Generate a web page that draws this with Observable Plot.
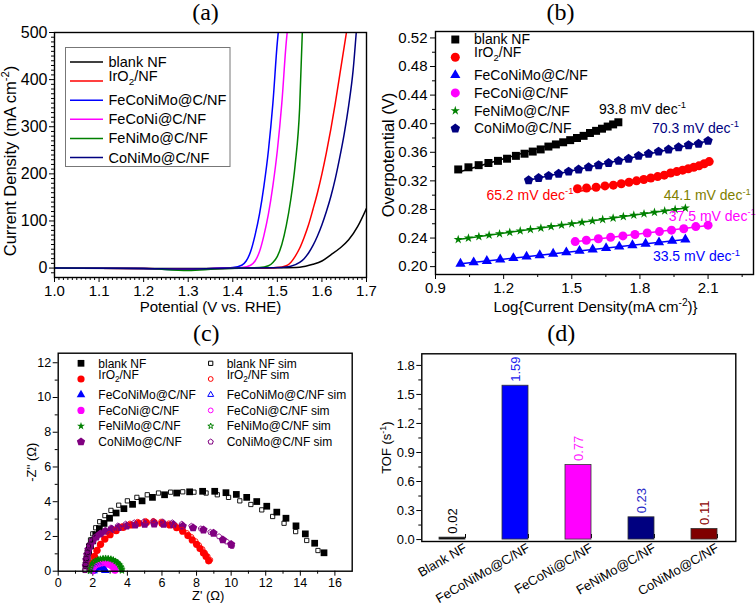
<!DOCTYPE html>
<html><head><meta charset="utf-8">
<script src="https://cdn.jsdelivr.net/npm/d3@7"></script>
<script src="https://cdn.jsdelivr.net/npm/@observablehq/plot@0.6"></script>
<style>
body{margin:0;background:#fff;}
#wrap{position:relative;width:756px;height:606px;overflow:hidden;background:#fff;}
#wrap svg{position:absolute;overflow:visible;}
</style></head><body><div id="wrap"></div>
<script>
const FONT = '"Liberation Sans", Arial, Helvetica, sans-serif';
const SERIF = '"Liberation Serif", "Times New Roman", serif';

// ---------------- (a) LSV ----------------
const lsvNames = ["blank NF","IrO_{2}/NF","FeCoNiMo@C/NF","FeCoNi@C/NF","FeNiMo@C/NF","CoNiMo@C/NF"];
const lsvColors = ["#000000","#ff0000","#0000ff","#ff00ff","#008000","#000080"];
const lsvBlank = [[1.0,0],[1.2,-1],[1.35,-1],[1.45,0],[1.5,0.5],[1.55,2],[1.58,8],[1.6,15],[1.62,28],[1.64,42],[1.66,60],[1.68,88],[1.7,127]];
const lsvIrO2 = [[1.0,0],[1.2,-1],[1.3,-2],[1.4,0],[1.48,0.5],[1.5,1],[1.52,5],[1.53,12],[1.54,25],[1.55,42],[1.56,65],[1.57,92],[1.58,125],[1.59,160],[1.6,200],[1.61,245],[1.62,295],[1.63,350],[1.64,410],[1.65,470],[1.655,500]];
const lsvFeCoNiMo = [[1.0,0],[1.1,0],[1.2,-1],[1.27,-3],[1.33,-2],[1.38,0],[1.4,1],[1.42,6],[1.43,15],[1.44,35],[1.45,70],[1.46,115],[1.47,175],[1.48,250],[1.49,350],[1.5,480],[1.502,500]];
const lsvFeCoNi = [[1.0,0],[1.2,-1],[1.3,-3],[1.36,-1],[1.4,0],[1.42,1],[1.44,6],[1.45,15],[1.46,35],[1.47,70],[1.48,115],[1.49,175],[1.5,250],[1.51,350],[1.52,480],[1.522,500]];
const lsvFeNiMo = [[1.0,0],[1.2,-1],[1.3,-5],[1.36,-2],[1.42,0],[1.46,1],[1.48,5],[1.49,12],[1.5,25],[1.51,50],[1.52,90],[1.53,145],[1.54,220],[1.55,340],[1.556,500]];
const lsvCoNiMo = [[1.0,0],[1.2,-1],[1.3,-2],[1.4,0],[1.48,0.5],[1.5,1],[1.53,4],[1.55,12],[1.56,20],[1.57,32],[1.58,48],[1.59,68],[1.6,92],[1.61,120],[1.62,152],[1.63,190],[1.64,235],[1.65,285],[1.66,345],[1.67,420],[1.677,500]];
const lsvSeries = [lsvBlank, lsvIrO2, lsvFeCoNiMo, lsvFeCoNi, lsvFeNiMo, lsvCoNiMo];
const aXTicks = [1.0,1.1,1.2,1.3,1.4,1.5,1.6,1.7];
const aYTicks = [0,100,200,300,400,500];

// ---------------- (b) Tafel ----------------
const tafelNames = ["blank NF","IrO_{2}/NF","FeCoNiMo@C/NF","FeCoNi@C/NF","FeNiMo@C/NF","CoNiMo@C/NF"];
const tafelColors = ["#000000","#ff0000","#0000ff","#ff00ff","#008000","#000080"];
const tafelBlank = [[1.0,0.336],[1.045,0.339],[1.09,0.342],[1.133,0.345],[1.175,0.348],[1.215,0.351],[1.254,0.355],[1.292,0.358],[1.328,0.361],[1.363,0.364],[1.397,0.368],[1.43,0.371],[1.462,0.374],[1.493,0.377],[1.523,0.380],[1.552,0.383],[1.58,0.387],[1.607,0.390],[1.633,0.393],[1.658,0.396],[1.682,0.399],[1.705,0.402]];
const tafelIrO2 = [[1.525,0.309],[1.565,0.310],[1.607,0.311],[1.646,0.313],[1.683,0.314],[1.718,0.316],[1.752,0.318],[1.785,0.320],[1.817,0.322],[1.848,0.324],[1.878,0.326],[1.907,0.328],[1.935,0.331],[1.962,0.333],[1.988,0.335],[2.013,0.337],[2.037,0.339],[2.06,0.341],[2.083,0.344],[2.105,0.347]];
const tafelFeCoNiMo = [[1.01,0.204],[1.068,0.206],[1.126,0.208],[1.185,0.210],[1.243,0.212],[1.301,0.214],[1.359,0.216],[1.418,0.218],[1.476,0.220],[1.534,0.222],[1.592,0.224],[1.651,0.226],[1.709,0.228],[1.767,0.230],[1.825,0.232],[1.884,0.234],[1.942,0.236],[2.0,0.238]];
const tafelFeCoNi = [[1.515,0.235],[1.564,0.237],[1.617,0.239],[1.671,0.241],[1.725,0.243],[1.778,0.245],[1.832,0.247],[1.886,0.249],[1.939,0.251],[1.993,0.253],[2.046,0.256],[2.10,0.258]];
const tafelFeNiMo = [[1.0,0.238],[1.045,0.240],[1.091,0.242],[1.136,0.244],[1.182,0.246],[1.227,0.248],[1.273,0.250],[1.318,0.252],[1.364,0.254],[1.409,0.256],[1.455,0.258],[1.5,0.260],[1.545,0.262],[1.591,0.264],[1.636,0.266],[1.682,0.268],[1.727,0.270],[1.773,0.272],[1.818,0.274],[1.864,0.276],[1.909,0.278],[1.955,0.280],[2.0,0.282]];
const tafelCoNiMo = [[1.31,0.321],[1.354,0.324],[1.398,0.327],[1.442,0.330],[1.486,0.333],[1.53,0.336],[1.574,0.339],[1.618,0.342],[1.662,0.345],[1.706,0.348],[1.75,0.351],[1.794,0.355],[1.838,0.358],[1.882,0.361],[1.926,0.364],[1.97,0.367],[2.014,0.370],[2.058,0.372],[2.10,0.376]];
const tafelSeries = [tafelBlank, tafelIrO2, tafelFeCoNiMo, tafelFeCoNi, tafelFeNiMo, tafelCoNiMo];
const tafelSlopeText = ["93.8 mV dec^{-1}","65.2 mV dec^{-1}","33.5 mV dec^{-1}","37.5 mV dec^{-1}","44.1 mV dec^{-1}","70.3 mV dec^{-1}"];
const tafelSlopeColors = ["#000000","#ff0000","#0000ff","#ff00ff","#808000","#000080"];
const tafelSlopeAt = [[1.62,0.420],[1.124,0.300],[1.857,0.214],[1.927,0.270],[1.905,0.299],[1.853,0.3935]];
const bXTicks = [0.9,1.2,1.5,1.8,2.1];
const bYTicks = [0.20,0.24,0.28,0.32,0.36,0.40,0.44,0.48,0.52];

// ---------------- (c) Nyquist ----------------
const eisNames = ["blank NF","IrO_{2}/NF","FeCoNiMo@C/NF","FeCoNi@C/NF","FeNiMo@C/NF","CoNiMo@C/NF"];
const eisColors = ["#000000","#ff0000","#0000ff","#ff00ff","#008000","#800080"];
const eisBlank = [[1.62,0.35],[1.68,0.75],[1.76,1.1],[1.87,1.45],[2.0,1.75],[2.17,2.1],[2.38,2.45],[2.65,2.75],[2.97,3.05],[3.35,3.35],[3.8,3.6],[4.3,3.85],[4.85,4.05],[5.45,4.25],[6.15,4.4],[6.85,4.5],[7.6,4.57],[8.35,4.6],[9.05,4.6],[9.7,4.52],[10.3,4.42],[10.9,4.25],[11.48,4.01],[12.06,3.74],[12.64,3.40],[13.17,3.05],[13.75,2.61],[14.29,2.15],[14.83,1.61],[15.37,1.06]];
const eisBlankSim = [[1.55,0.05],[1.58,0.4],[1.62,0.75],[1.68,1.1],[1.76,1.45],[1.87,1.8],[2.0,2.15],[2.17,2.5],[2.4,2.85],[2.7,3.2],[3.05,3.5],[3.5,3.8],[4.0,4.05],[4.55,4.25],[5.15,4.4],[5.8,4.5],[6.5,4.55],[7.2,4.57],[7.85,4.55],[8.55,4.5],[9.2,4.4],[9.85,4.25],[10.5,4.05],[11.14,3.84],[11.77,3.53],[12.4,3.15],[13.06,2.76],[13.73,2.28],[14.37,1.77],[15.02,1.19]];
const eisIrO2 = [[1.95,0.2],[2.0,0.5],[2.1,0.85],[2.25,1.2],[2.45,1.55],[2.7,1.85],[3.0,2.1],[3.35,2.33],[3.75,2.52],[4.2,2.66],[4.65,2.76],[5.1,2.8],[5.55,2.8],[6.0,2.76],[6.45,2.66],[6.85,2.5],[7.2,2.3],[7.5,2.05],[7.75,1.8],[8.0,1.55],[8.2,1.3],[8.4,1.05],[8.55,0.85],[8.7,0.6]];
const eisIrO2Sim = [[1.9,0.1],[1.95,0.45],[2.05,0.8],[2.2,1.15],[2.4,1.5],[2.65,1.85],[2.95,2.15],[3.3,2.4],[3.7,2.6],[4.15,2.75],[4.6,2.85],[5.05,2.9],[5.5,2.9],[5.95,2.86],[6.4,2.76],[6.8,2.6],[7.15,2.4],[7.45,2.2],[7.7,1.98],[7.95,1.73],[8.15,1.5],[8.35,1.27],[8.5,1.05],[8.65,0.85],[8.8,0.65]];
const eisFeCoNiMo = [[2.05,0.02],[2.08,0.1],[2.14,0.17],[2.22,0.22],[2.31,0.25],[2.41,0.26],[2.51,0.24],[2.6,0.19],[2.67,0.12],[2.72,0.04]];
const eisFeCoNiMoSim = [[2.03,0.0],[2.06,0.08],[2.11,0.15],[2.19,0.21],[2.28,0.25],[2.38,0.27],[2.48,0.26],[2.57,0.22],[2.65,0.15],[2.7,0.07]];
const eisFeCoNi = [[2.0,0.02],[2.02,0.12],[2.07,0.21],[2.14,0.29],[2.23,0.35],[2.34,0.4],[2.46,0.43],[2.59,0.45],[2.72,0.45],[2.85,0.43],[2.97,0.39],[3.08,0.33],[3.17,0.25],[3.24,0.16],[3.28,0.06]];
const eisFeCoNiSim = [[1.98,0.0],[2.0,0.08],[2.04,0.17],[2.1,0.25],[2.19,0.32],[2.29,0.38],[2.41,0.42],[2.53,0.45],[2.66,0.46],[2.79,0.45],[2.91,0.42],[3.03,0.37],[3.13,0.3],[3.21,0.21],[3.27,0.12],[3.3,0.03]];
const eisFeNiMo = [[1.85,0.05],[1.87,0.2],[1.92,0.33],[1.99,0.44],[2.08,0.53],[2.19,0.6],[2.32,0.65],[2.46,0.69],[2.61,0.71],[2.76,0.72],[2.91,0.71],[3.06,0.68],[3.2,0.63],[3.33,0.55],[3.45,0.46],[3.55,0.35],[3.62,0.23],[3.67,0.1]];
const eisFeNiMoSim = [[1.84,0.0],[1.86,0.15],[1.9,0.3],[1.97,0.42],[2.05,0.52],[2.16,0.6],[2.29,0.66],[2.43,0.7],[2.58,0.73],[2.73,0.74],[2.88,0.73],[3.03,0.71],[3.18,0.66],[3.31,0.59],[3.43,0.5],[3.53,0.39],[3.61,0.27],[3.66,0.14],[3.69,0.02]];
const eisCoNiMo = [[1.6,0.3],[1.63,0.65],[1.68,0.95],[1.75,1.25],[1.85,1.5],[2.0,1.75],[2.2,1.97],[2.45,2.15],[2.75,2.3],[3.1,2.42],[3.5,2.52],[3.95,2.6],[4.45,2.66],[5.0,2.7],[5.55,2.72],[6.1,2.71],[6.65,2.68],[7.2,2.6],[7.8,2.5],[8.4,2.38],[8.98,2.19],[9.52,1.81],[10.0,1.54]];
const eisCoNiMoSim = [[1.55,0.05],[1.58,0.45],[1.63,0.8],[1.7,1.15],[1.8,1.45],[1.95,1.72],[2.15,1.97],[2.4,2.17],[2.7,2.35],[3.05,2.5],[3.45,2.62],[3.9,2.72],[4.4,2.8],[4.95,2.85],[5.5,2.87],[6.05,2.85],[6.6,2.8],[7.15,2.72],[7.7,2.6],[8.25,2.45],[8.8,2.25],[9.3,2.0],[9.75,1.7],[10.05,1.44]];
const eisSeries = [eisBlank, eisIrO2, eisFeCoNiMo, eisFeCoNi, eisFeNiMo, eisCoNiMo];
const eisSimSeries = [eisBlankSim, eisIrO2Sim, eisFeCoNiMoSim, eisFeCoNiSim, eisFeNiMoSim, eisCoNiMoSim];
const cXTicks = [0,2,4,6,8,10,12,14,16];
const cYTicks = [0,2,4,6,8,10,12];

// ---------------- (d) TOF ----------------
const tofCats = ["Blank NF","FeCoNiMo@C/NF","FeCoNi@C/NF","FeNiMo@C/NF","CoNiMo@C/NF"];
const tofValues = [0.02,1.59,0.77,0.23,0.11];
const tofColors = ["#000000","#0000ff","#ff00ff","#000080","#800000"];
const tofLabelColors = ["#000000","#2222ee","#ff22ff","#2a2ac8","#8b0000"];
const dYTicks = [0,0.3,0.6,0.9,1.2,1.5,1.8];

// ---------- helpers ----------
const symbolPentagon = {
  draw(context, size) {
    const R = Math.sqrt(size / 2.3776);
    for (let k = 0; k < 5; k++) {
      const a = -Math.PI / 2 + k * 2 * Math.PI / 5;
      const x = R * Math.cos(a), y = R * Math.sin(a);
      if (k) context.lineTo(x, y); else context.moveTo(x, y);
    }
    context.closePath();
  }
};
const seriesSymbols = ["square","circle","triangle","circle","star",symbolPentagon];
const d3Symbols = [d3.symbolSquare, d3.symbolCircle, d3.symbolTriangle, d3.symbolCircle, d3.symbolStar, symbolPentagon];
const minorBetween = (lo, hi, step, majors) => d3.range(Math.round((hi-lo)/step)+1).map(i => +(lo + i*step).toFixed(6)).filter(v => !majors.some(m => Math.abs(m - v) < 1e-9));
const baseStyle = {background: "transparent", overflow: "visible", fontFamily: FONT, color: "#000"};
const blank = () => "";

function richify(svg) {
  svg.querySelectorAll("text").forEach(t => {
    const targets = t.querySelectorAll("tspan").length ? Array.from(t.querySelectorAll("tspan")) : [t];
    targets.forEach(el => {
      const s = el.textContent;
      if (!/[_^]\{/.test(s)) return;
      const fs = parseFloat(getComputedStyle(el).fontSize) || 14;
      const parts = s.split(/([_^]\{[^}]*\})/);
      while (el.firstChild) el.removeChild(el.firstChild);
      let cur = 0;
      for (const p of parts) {
        if (!p) continue;
        const ts = document.createElementNS("http://www.w3.org/2000/svg", "tspan");
        const m = p.match(/^([_^])\{([^}]*)\}$/);
        if (m) {
          const target = m[1] === "_" ? 0.25 * fs : -0.4 * fs;
          ts.setAttribute("dy", (target - cur).toFixed(2));
          cur = target;
          ts.setAttribute("font-size", (0.68 * fs).toFixed(1));
          ts.textContent = m[2];
        } else {
          ts.setAttribute("dy", (-cur).toFixed(2));
          cur = 0;
          ts.textContent = p;
        }
        el.appendChild(ts);
      }
    });
  });
}

function legend(svg, items, o) {
  const g = d3.select(svg).append("g").attr("font-family", FONT).attr("font-size", o.fontSize).attr("fill", "#000").attr("text-anchor", "start");
  items.forEach((it, i) => {
    const y = o.y0 + i * o.dy;
    if (it.line) g.append("line").attr("x1", o.lx1).attr("x2", o.lx2).attr("y1", y).attr("y2", y).attr("stroke", it.color).attr("stroke-width", 1.5);
    if (it.symbol) g.append("path").attr("transform", `translate(${o.sx},${y})`).attr("d", d3.symbol(it.symbol, it.size)())
      .attr("fill", it.open ? "none" : it.color).attr("stroke", it.color).attr("stroke-width", it.open ? 1 : 0);
    g.append("text").attr("x", o.tx).attr("y", y).attr("dy", "0.35em").text(it.label);
  });
  return g;
}

const wrap = document.getElementById("wrap");
function place(svg, left, top) { svg.style.left = left + "px"; svg.style.top = top + "px"; wrap.appendChild(svg); }
function yTitle(text, dx, dy, fontSize) { return Plot.text([text], {frameAnchor: "left", textAnchor: "middle", lineAnchor: "middle", rotate: -90, dx, dy, fontSize, fill: "#000"}); }
function xTitle(text, dx, dy, fontSize) { return Plot.text([text], {frameAnchor: "bottom", textAnchor: "middle", lineAnchor: "middle", dx, dy, fontSize, fill: "#000"}); }
function panelTitle(text, dx, dy) { return Plot.text([text], {frameAnchor: "top", textAnchor: "middle", lineAnchor: "middle", dx, dy, fontFamily: SERIF, fontSize: 24, fill: "#000"}); }

// ---------- (a) ----------
const lsvRows = lsvSeries.flatMap((s, i) => s.map(([v, j]) => ({v, j, name: lsvNames[i], color: lsvColors[i]})));
const plotA = Plot.plot({
  width: 378, height: 318, marginLeft: 54, marginRight: 12, marginTop: 32, marginBottom: 41,
  style: {...baseStyle, fontSize: "15px"},
  x: {domain: [1.0, 1.7], label: null},
  y: {domain: [-20, 500], label: null},
  color: {type: "identity"},
  marks: [
    Plot.axisX(minorBetween(1.0, 1.7, 0.01, aXTicks), {tickSize: 3, tickFormat: blank, label: null}),
    Plot.axisX(aXTicks, {tickSize: 5, tickPadding: 3, tickFormat: d => d.toFixed(1), fontSize: 15, label: null}),
    Plot.axisY(minorBetween(-10, 490, 10, aYTicks), {tickSize: 3, tickFormat: blank, label: null}),
    Plot.axisY(aYTicks, {tickSize: 5, tickPadding: 2, fontSize: 16, label: null}),
    Plot.line(lsvRows, {x: "v", y: "j", z: "name", stroke: "color", strokeWidth: 1.5, curve: "monotone-x", clip: true}),
    Plot.frame({stroke: "#000", strokeWidth: 1.4}),
    xTitle("Potential (V vs. RHE)", 0, 30, 15),
    yTitle("Current Density (mA cm^{-2})", -44, 6, 16.5),
    panelTitle("(a)", -5, -20)
  ]
});
place(plotA, 0, 0);
d3.select(plotA).append("rect").attr("x", 65.5).attr("y", 47.5).attr("width", 164.5).attr("height", 119).attr("fill", "#fff").attr("stroke", "#777").attr("stroke-width", 1);
legend(plotA, lsvNames.map((n, i) => ({label: n, color: lsvColors[i], line: true})), {fontSize: 14.5, y0: 62, dy: 19.1, lx1: 70, lx2: 103, tx: 108.5});

// ---------- (b) ----------
const tafelRows = tafelSeries.flatMap((s, i) => s.map(([x, y]) => ({x, y, k: i, color: tafelColors[i]})));
const tafelSizes = [4.5, 4.5, 3.8, 4.5, 2.9, 4.3];
const slopeRows = tafelSlopeText.map((t, i) => ({t, x: tafelSlopeAt[i][0], y: tafelSlopeAt[i][1], color: tafelSlopeColors[i]}));
const plotB = Plot.plot({
  width: 378, height: 318, marginLeft: 57, marginRight: 3, marginTop: 31, marginBottom: 44,
  style: {...baseStyle, fontSize: "15px"},
  x: {domain: [0.9, 2.3], label: null},
  y: {domain: [0.189, 0.529], label: null},
  color: {type: "identity"},
  marks: [
    Plot.axisX([1.05,1.35,1.65,1.95,2.25], {tickSize: 3, tickFormat: blank, label: null}),
    Plot.axisX(bXTicks, {tickSize: 5, tickPadding: 3, tickFormat: d => d.toFixed(1), fontSize: 15, label: null}),
    Plot.axisY(minorBetween(0.22, 0.50, 0.04, []), {tickSize: 3, tickFormat: blank, label: null}),
    Plot.axisY(bYTicks, {tickSize: 5, tickPadding: 3, tickFormat: d => d.toFixed(2), fontSize: 15, label: null}),
    Plot.linearRegressionY(tafelRows, {x: "x", y: "y", z: "k", stroke: "color", strokeWidth: 1.5, ci: 0}),
    ...tafelSeries.map((s, i) => Plot.dot(s, {x: d => d[0], y: d => d[1], symbol: seriesSymbols[i], r: tafelSizes[i], fill: tafelColors[i], stroke: "none"})),
    Plot.text(slopeRows, {x: "x", y: "y", text: "t", fill: "color", textAnchor: "start", fontSize: 14}),
    Plot.frame({stroke: "#000", strokeWidth: 1.4}),
    xTitle("Log{Current Density(mA cm^{-2})}", 1, 33, 15),
    yTitle("Overpotential (V)", -47, 2, 16.5),
    panelTitle("(b)", -34, -19)
  ]
});
place(plotB, 378, 0);
legend(plotB, tafelNames.map((n, i) => ({label: n, color: tafelColors[i], symbol: d3Symbols[i], size: Math.PI * tafelSizes[i] ** 2})),
  {fontSize: 14, y0: 39.5, dy: 17.8, sx: 77.3, tx: 96});

// ---------- (c) ----------
const eisSizes = [3.8, 3.6, 3.2, 3.6, 2.5, 3.8];
const eisSimSizes = [2.4, 2.4, 2.2, 2.4, 1.8, 2.4];
const plotC = Plot.plot({
  width: 378, height: 288, marginLeft: 57.7, marginRight: 26.3, marginTop: 34.7, marginBottom: 35.3,
  style: {...baseStyle, fontSize: "12px"},
  x: {domain: [0, 17], label: null},
  y: {domain: [0, 12.55], label: null},
  marks: [
    Plot.axisX(minorBetween(1, 15, 2, []), {tickSize: 3, tickFormat: blank, label: null}),
    Plot.axisX(cXTicks, {tickSize: 5, tickPadding: 2, fontSize: 12.5, label: null}),
    Plot.axisY(minorBetween(1, 11, 2, []), {tickSize: 3, tickFormat: blank, label: null}),
    Plot.axisY(cYTicks, {tickSize: 5, tickPadding: 2, fontSize: 12.5, label: null}),
    ...eisSeries.map((s, i) => Plot.dot(s, {x: d => d[0], y: d => d[1], symbol: seriesSymbols[i], r: eisSizes[i], fill: eisColors[i], stroke: "none"})),
    ...eisSimSeries.map((s, i) => Plot.dot(s, {x: d => d[0], y: d => d[1], symbol: seriesSymbols[i], r: eisSimSizes[i], fill: "none", stroke: eisColors[i], strokeWidth: 0.9})),
    Plot.frame({stroke: "#000", strokeWidth: 1.4}),
    xTitle("Z' (Ω)", 3, 24.5, 13),
    yTitle("-Z'' (Ω)", -26, 0, 13),
    panelTitle("(c)", 1, -20)
  ]
});
place(plotC, 0, 318);
legend(plotC, eisNames.map((n, i) => ({label: n, color: eisColors[i], symbol: d3Symbols[i], size: Math.PI * eisSizes[i] ** 2})),
  {fontSize: 12, y0: 45.3, dy: 15.7, sx: 81, tx: 98.3});
legend(plotC, eisNames.map((n, i) => ({label: n + " sim", color: eisColors[i], symbol: d3Symbols[i], size: Math.PI * eisSimSizes[i] ** 2, open: true})),
  {fontSize: 12, y0: 45.3, dy: 15.7, sx: 210.7, tx: 226.7});

// ---------- (d) ----------
const tofRows = tofCats.map((c, i) => ({c, v: tofValues[i], fill: tofColors[i], lc: tofLabelColors[i]}));
const plotD = Plot.plot({
  width: 378, height: 288, marginLeft: 43.3, marginRight: 20.7, marginTop: 35.3, marginBottom: 65,
  style: {...baseStyle, fontSize: "13px"},
  x: {type: "band", domain: tofCats, paddingInner: 0.59, paddingOuter: 0.26, label: null},
  y: {domain: [-0.02, 1.92], label: null},
  color: {type: "identity"},
  marks: [
    Plot.axisX({tickSize: 4, tickRotate: -30, fontSize: 13, dx: 13, dy: -7, label: null}),
    Plot.axisY(minorBetween(0.15, 1.65, 0.3, []), {tickSize: 3, tickFormat: blank, label: null}),
    Plot.axisY(dYTicks, {tickSize: 5, tickPadding: 2, tickFormat: d => d.toFixed(1), fontSize: 13, label: null}),
    Plot.barY(tofRows, {x: "c", y: "v", fill: "fill", stroke: "#333", strokeWidth: 0.8}),
    Plot.text(tofRows, {x: "c", y: "v", text: d => d.v.toFixed(2), fill: "lc", rotate: -90, textAnchor: "start", dy: -4, fontSize: 13}),
    Plot.frame({stroke: "#000", strokeWidth: 1.4}),
    yTitle("TOF (s^{-1})", -35, 0, 13),
    panelTitle("(d)", -17.6, -20)
  ]
});
place(plotD, 378, 318);

[plotA, plotB, plotC, plotD].forEach(richify);
</script></body></html>
